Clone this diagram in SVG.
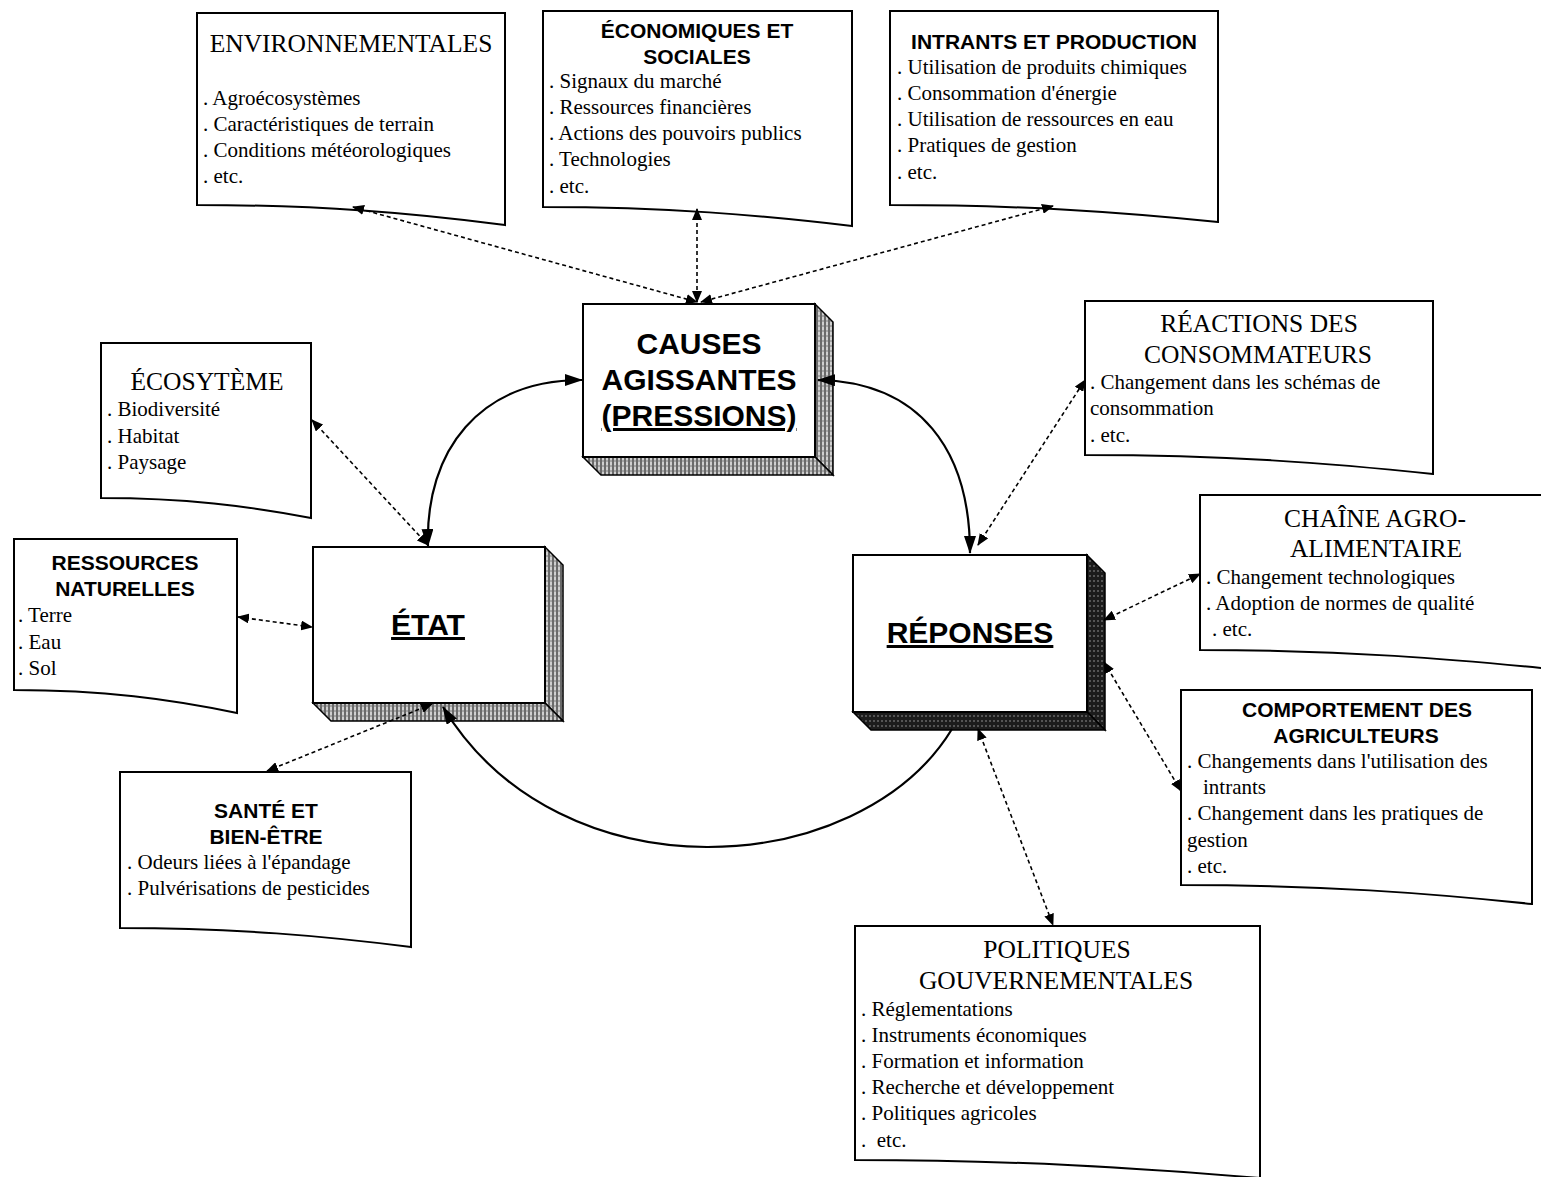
<svg xmlns="http://www.w3.org/2000/svg" width="1541" height="1177" viewBox="0 0 1541 1177">
<style>
.doc{fill:#fff;stroke:#000;stroke-width:2}
.front{fill:#fff;stroke:#000;stroke-width:2}
.t{font-family:"Liberation Serif","Times New Roman",serif;font-size:25.5px;fill:#000}
.h{font-family:"Liberation Sans",Arial,sans-serif;font-weight:bold;font-size:21px;fill:#000}
.b{font-family:"Liberation Serif","Times New Roman",serif;font-size:21px;fill:#000}
.big{font-family:"Liberation Sans",Arial,sans-serif;font-weight:bold;font-size:30px;fill:#000}
.dash{fill:none;stroke:#000;stroke-width:1.6;stroke-dasharray:4 3;marker-start:url(#a);marker-end:url(#a)}
.solid{fill:none;stroke:#000;stroke-width:2.2;marker-end:url(#A)}
.both{marker-start:url(#A)}
</style>
<defs>
<pattern id="hatchL" width="4" height="5" patternUnits="userSpaceOnUse"><rect width="4" height="5" fill="#cfcfcf"/><path d="M1,0V5" stroke="#333" stroke-width="1.3"/><path d="M3,0V2" stroke="#666" stroke-width="0.8"/></pattern>
<pattern id="hatchD" width="4" height="5" patternUnits="userSpaceOnUse"><rect width="4" height="5" fill="#1c1c1c"/><path d="M2,0V2" stroke="#aaa" stroke-width="0.8"/></pattern>
<marker id="a" viewBox="0 0 12 10" refX="11" refY="5" markerWidth="12" markerHeight="10" markerUnits="userSpaceOnUse" orient="auto-start-reverse"><path d="M0,0L12,5L0,10z" fill="#000"/></marker>
<marker id="A" viewBox="0 0 18 12" refX="17" refY="6" markerWidth="18" markerHeight="12" markerUnits="userSpaceOnUse" orient="auto-start-reverse"><path d="M0,0L18,6L0,12z" fill="#000"/></marker>
</defs>
<rect width="1541" height="1177" fill="#fff"/>

<g id="causes">
<polygon points="815,304 833,322 833,475 815,457" fill="url(#hatchL)" stroke="#000" stroke-width="1.5"/>
<polygon points="583,457 815,457 833,475 601,475" fill="url(#hatchL)" stroke="#000" stroke-width="1.5"/>
<rect class="front" x="583" y="304" width="232" height="153"/>
<text class="big" x="699" y="354" text-anchor="middle">CAUSES</text>
<text class="big" x="699" y="390" text-anchor="middle">AGISSANTES</text>
<text class="big" x="699" y="426" text-anchor="middle" text-decoration="underline">(PRESSIONS)</text>
</g>

<g id="etat">
<polygon points="545,547 563,565 563,721 545,703" fill="url(#hatchL)" stroke="#000" stroke-width="1.5"/>
<polygon points="313,703 545,703 563,721 331,721" fill="url(#hatchL)" stroke="#000" stroke-width="1.5"/>
<rect class="front" x="313" y="547" width="232" height="156"/>
<text class="big" x="428" y="635" text-anchor="middle" text-decoration="underline">ÉTAT</text>
</g>

<g id="reponses">
<polygon points="1087,555 1105,573 1105,730 1087,712" fill="url(#hatchD)" stroke="#000" stroke-width="1.5"/>
<polygon points="853,712 1087,712 1105,730 871,730" fill="url(#hatchD)" stroke="#000" stroke-width="1.5"/>
<rect class="front" x="853" y="555" width="234" height="157"/>
<text class="big" x="970" y="643" text-anchor="middle" text-decoration="underline">RÉPONSES</text>
</g>

<g id="environnementales">
<path class="doc" d="M197,13 H505 V225 C413,213 320,205 197,205 Z"/>
<text class="t" x="351" y="52" text-anchor="middle">ENVIRONNEMENTALES</text>
<text class="b" x="203" y="105">. Agroécosystèmes</text>
<text class="b" x="203" y="131">. Caractéristiques de terrain</text>
<text class="b" x="203" y="157">. Conditions météorologiques</text>
<text class="b" x="203" y="183">. etc.</text>
</g>

<g id="economiques">
<path class="doc" d="M543,11 H852 V226 C759,215 667,207 543,207 Z"/>
<text class="h" x="697" y="38" text-anchor="middle">ÉCONOMIQUES ET</text>
<text class="h" x="697" y="64" text-anchor="middle">SOCIALES</text>
<text class="b" x="549" y="88">. Signaux du marché</text>
<text class="b" x="549" y="114">. Ressources financières</text>
<text class="b" x="549" y="140">. Actions des pouvoirs publics</text>
<text class="b" x="549" y="166">. Technologies</text>
<text class="b" x="549" y="193">. etc.</text>
</g>

<g id="intrants">
<path class="doc" d="M890,11 H1218 V222 C1120,212 1021,205 890,205 Z"/>
<text class="h" x="1054" y="49" text-anchor="middle">INTRANTS ET PRODUCTION</text>
<text class="b" x="897" y="74">. Utilisation de produits chimiques</text>
<text class="b" x="897" y="100">. Consommation d'énergie</text>
<text class="b" x="897" y="126">. Utilisation de ressources en eau</text>
<text class="b" x="897" y="152">. Pratiques de gestion</text>
<text class="b" x="897" y="179">. etc.</text>
</g>

<g id="ecosysteme">
<path class="doc" d="M101,343 H311 V518 C248,506 185,498 101,498 Z"/>
<text class="t" x="207" y="390" text-anchor="middle">ÉCOSYTÈME</text>
<text class="b" x="107" y="416">. Biodiversité</text>
<text class="b" x="107" y="443">. Habitat</text>
<text class="b" x="107" y="469">. Paysage</text>
</g>

<g id="ressources">
<path class="doc" d="M14,539 H237 V713 C170,699 103,690 14,690 Z"/>
<text class="h" x="125" y="570" text-anchor="middle">RESSOURCES</text>
<text class="h" x="125" y="596" text-anchor="middle">NATURELLES</text>
<text class="b" x="18" y="622">. Terre</text>
<text class="b" x="18" y="649">. Eau</text>
<text class="b" x="18" y="675">. Sol</text>
</g>

<g id="sante">
<path class="doc" d="M120,772 H411 V947 C324,936 236,928 120,928 Z"/>
<text class="h" x="266" y="818" text-anchor="middle">SANTÉ ET</text>
<text class="h" x="266" y="844" text-anchor="middle">BIEN-ÊTRE</text>
<text class="b" x="127" y="869">. Odeurs liées à l'épandage</text>
<text class="b" x="127" y="895">. Pulvérisations de pesticides</text>
</g>

<g id="reactions">
<path class="doc" d="M1085,301 H1433 V474 C1329,463 1224,455 1085,455 Z"/>
<text class="t" x="1259" y="332" text-anchor="middle">RÉACTIONS DES</text>
<text class="t" x="1258" y="363" text-anchor="middle">CONSOMMATEURS</text>
<text class="b" x="1090" y="389">. Changement dans les schémas de</text>
<text class="b" x="1090" y="415">consommation</text>
<text class="b" x="1090" y="442">. etc.</text>
</g>

<g id="chaine">
<path class="doc" d="M1200,495 H1562 V670 C1453,659 1345,650 1200,650 Z"/>
<text class="t" x="1375" y="527" text-anchor="middle">CHAÎNE AGRO-</text>
<text class="t" x="1376" y="557" text-anchor="middle">ALIMENTAIRE</text>
<text class="b" x="1206" y="584">. Changement technologiques</text>
<text class="b" x="1206" y="610">. Adoption de normes de qualité</text>
<text class="b" x="1212" y="636">. etc.</text>
</g>

<g id="comportement">
<path class="doc" d="M1181,690 H1532 V904 C1427,893 1321,885 1181,885 Z"/>
<text class="h" x="1357" y="717" text-anchor="middle">COMPORTEMENT DES</text>
<text class="h" x="1356" y="743" text-anchor="middle">AGRICULTEURS</text>
<text class="b" x="1187" y="768">. Changements dans l'utilisation des</text>
<text class="b" x="1203" y="794">intrants</text>
<text class="b" x="1187" y="820">. Changement dans les pratiques de</text>
<text class="b" x="1187" y="847">gestion</text>
<text class="b" x="1187" y="873">. etc.</text>
</g>

<g id="politiques">
<path class="doc" d="M855,926 H1260 V1178 C1138,1168 1017,1160 855,1160 Z"/>
<text class="t" x="1057" y="958" text-anchor="middle">POLITIQUES</text>
<text class="t" x="1056" y="989" text-anchor="middle">GOUVERNEMENTALES</text>
<text class="b" x="861" y="1016">. Réglementations</text>
<text class="b" x="861" y="1042">. Instruments économiques</text>
<text class="b" x="861" y="1068">. Formation et information</text>
<text class="b" x="861" y="1094">. Recherche et développement</text>
<text class="b" x="861" y="1120">. Politiques agricoles</text>
<text class="b" x="861" y="1147">.&#160; etc.</text>
</g>

<g id="connectors">
<path class="dash" d="M353,207 L697,302"/>
<path class="dash" d="M697,209 L697,302"/>
<path class="dash" d="M1053,206 L701,302"/>
<path class="dash" d="M312,420 L428,545"/>
<path class="dash" d="M238,617 L312,627"/>
<path class="dash" d="M432,704 L267,771"/>
<path class="dash" d="M978,545 L1085,380"/>
<path class="dash" d="M1104,620 L1200,574"/>
<path class="dash" d="M1104,662 L1181,791"/>
<path class="dash" d="M978,729 L1053,925"/>
<path class="solid both" d="M582,380 C480,380 425,450 428,546"/>
<path class="solid both" d="M818,380 C920,382 970,450 970,553"/>
<path class="solid" d="M952,729 C860,880 560,900 443,707"/>
</g>
</svg>
